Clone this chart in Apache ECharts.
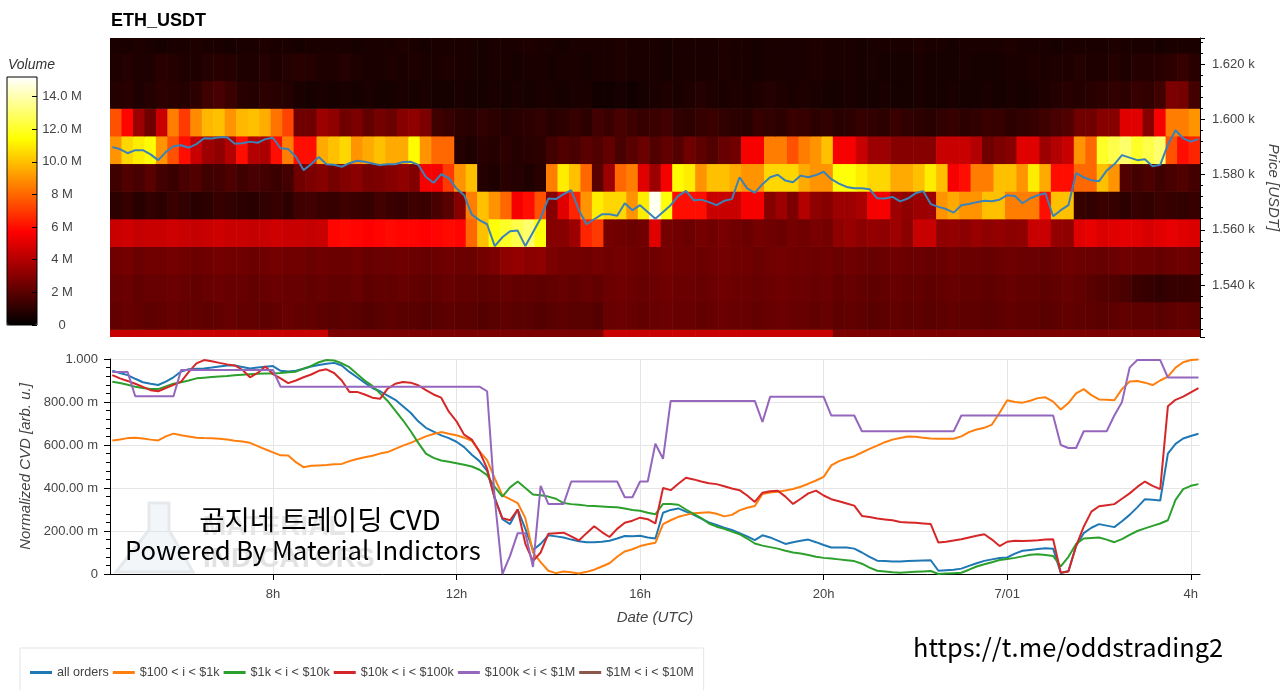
<!DOCTYPE html>
<html>
<head>
<meta charset="utf-8">
<title>ETH_USDT CVD</title>
<script src="https://cdn.jsdelivr.net/npm/echarts@6/dist/echarts.min.js"></script>
<style>
  html, body { margin: 0; padding: 0; background: #fff; }
  #chart { width: 1280px; height: 690px; }
</style>
</head>
<body>
<div id="chart"></div>
<script>
// x is hours since 06-30 00:00 UTC
const xMin = 4.45, xMax = 28.2;
const tickHours = [8, 12, 16, 20, 24, 28];

// volume heatmap: 15 min columns from 04:27, 10 USDT price bins (values in M)
const heatStart = 4.45;
const heatStep = 0.25;
const priceBins = [1519, 1529, 1539, 1549, 1559, 1569, 1579, 1589, 1599, 1609, 1619, 1629];

const vol1519 = [4.5,4.5,4.5,4.5,4.5,4.5,4.5,4.5,4.5,4.5,4.5,4.5,4.5,4.5,4.5,4.5,4.5,4.5,4.5,
  2.8,2.8,2.8,2.8,2.8,2.8,2.8,2.8,2.8,2.8,2.8,2.8,2.8,2.8,2.8,2.8,2.8,2.8,2.8,2.8,2.8,2.8,2.8,2.8,
  4.5,4.5,4.5,4.5,4.5,4.5,4.5,4.5,4.5,4.5,4.5,4.5,4.5,4.5,4.5,4.5,4.5,4.5,4.5,4.5,
  2.8,2.8,2.8,2.8,2.8,2.8,2.8,2.8,2.8,2.8,2.8,2.8,2.8,2.8,2.8,2.8,2.8,2.8,2.8,2.8,2.8,2.8,2.8,2.8,2.8,2.8,2.8,2.8,2.8,2.8,2.8,2.8];
const vol1529 = [2.2,2.3,2.2,2.1,2.2,2.3,2.2,2.2,2.1,2.2,2.3,2.2,2.2,2.1,2.2,2.3,2.2,2.2,2.1,
  2.0,2.1,2.0,1.9,2.0,2.1,2.0,2.0,1.9,2.0,2.1,2.0,2.0,1.9,2.0,2.1,2.0,2.0,1.9,2.0,2.1,2.0,2.0,1.9,
  2.3,2.4,2.3,2.2,2.3,2.4,2.3,2.3,2.2,2.3,2.4,2.3,2.3,2.2,2.3,2.4,2.3,2.3,2.2,2.3,
  2.1,2.2,2.1,2.0,2.1,2.2,2.1,2.1,2.0,2.1,2.2,2.1,2.1,2.0,2.1,2.2,2.1,2.1,2.0,2.1,2.2,2.1,2.1,2.0,2.1,2.2,2.1,2.1,2.0,2.1,2.2,2.1];
const vol1539 = [2.3,2.4,2.2,2.3,2.3,2.4,2.3,2.2,2.3,2.4,2.3,2.3,2.2,2.3,2.4,2.3,2.3,2.2,2.3,2.2,
  2.2,2.3,2.1,2.2,2.2,2.3,2.2,2.1,2.2,2.3,2.2,2.2,2.1,2.2,2.3,2.2,2.2,2.1,2.2,2.3,2.2,2.3,2.2,
  2.4,2.5,2.4,2.3,2.4,2.5,2.4,2.4,2.3,2.4,2.5,2.4,2.4,2.3,2.4,2.5,2.4,2.4,2.3,2.4,
  2.2,2.3,2.2,2.1,2.2,2.3,2.2,2.2,2.1,2.2,2.3,2.2,2.2,2.1,2.2,2.3,2.2,2.2,2.1,2.2,2.3,2.2,2.0,1.9,1.8,1.6,
  1.3,1.2,1.1,1.2,1.2,1.3];
const vol1549 = [2.5,2.6,2.4,2.5,2.5,2.6,2.5,2.4,2.5,2.6,2.5,2.5,2.4,2.5,2.6,2.5,2.5,2.4,2.5,
  2.4,2.4,2.5,2.3,2.4,2.4,2.5,2.4,2.3,2.4,2.5,2.4,2.4,2.6,2.8,
  3.2,3.3,3.1,3.2, 2.8,2.6,2.6,2.5,2.6,
  2.5,2.6,2.5,2.4,2.5,2.6,2.5,2.5,2.4,2.5,2.6,2.5,2.5,2.4,2.5,2.6,2.5,2.5,2.4,2.5,
  2.4,2.5,2.4,2.3,2.4,2.5,2.4,2.4,2.3,2.4,2.5,2.4,2.4,2.3,2.4,2.5,2.4,2.4,2.3,2.4,2.5,2.4,2.4,2.3,2.4,2.5,2.4,2.4,2.3,2.4,2.5,2.4];
const vol1559 = [4.5,4.6,4.4,4.5,4.5,4.6,4.5,4.4,4.5,4.6,4.5,4.5,4.4,4.5,4.6,4.5,4.5,4.4,4.5,
  5.8,5.9,5.8,5.7,5.8,5.9,5.8,5.8,5.7,5.8,5.9,5.8,
  8,10,11.5,12,12.5,13,11.5, 3,3,3.5,6.5,7,
  2.6,2.5,2.4,2.5,5,2.6,2.5,2.4,2.6,2.5,2.7,2.5,2.4,2.6,2.5,2.4,2.6,2.5,2.7,2.6,
  3.2,3.4,3.1,3.3,3.2,3.5,3.1,4.5,4.5,3.2,3.3,3.1,3.4,3.2,3.3,3.1,3.2,4.5,4.5,3.3,3.2,
  5,5.2,4.9,5,5.1,5,4.8,5,5.2,5,4.9];
const vol1569 = [1.0,1.2,0.9,1.1,1.0,1.3,1.1,0.9,1.0,1.2,1.1,1.0,0.9,1.1,1.2,1.0,1.4,1.5,1.3,1.2,
  1.4,1.3,1.2,1.5,1.3,1.2,1.4,1.3,1.6,2.0,3.0,
  8.5,10,9,8,5.5,6,7.5,3,5,6.5,9,11,10.5,10.5,9,11,15,11.5,6,6,
  6,4.5,4.5,4.5,5.5,5.5,3,3.5,2.8,4,3.2,3,3.5,3.5,3.8,5.5,5.5,3.5,3.2,3.5,
  3.5,9,9.5,9,9,10,10,8.5,8.5,8.5,6,10,10,
  1.2,1.1,1.3,1.2,1.0,1.2,1.1,1.3,1.2,1.1,1.2];
const vol1579 = [1.4,1.8,1.6,2.0,1.5,1.3,1.6,1.8,1.4,1.5,1.7,1.4,1.6,1.5,1.3,1.5, 2.5,
  2.8,3,2.6,2.9,3.1,2.7,2.8,3,3.2,2.9, 5.5,5.5,7,9,10, 0.8,0.7,0.9,0.8,0.7,0.9,
  8.5,11,10,8,2,3.5,8,8.5,5,3.5,5.5,11.3,11,9,10,10,9.5,9,9,10.5,
  10.5,10.5,9.5,9,9,11.5,11.5,11,10.5,10.5,9.5,9.5,10,11,10,5.5,6,8.5,8.5,10,
  10,9,11,9.5,6,6,8,8,10,9,
  1.8,1.5,1.7,1.4,1.6,1.8,1.5];
const vol1589 = [9,10.5,11,11.3,9,7.5,6,4.5,3.5,3.2,4,6,4,3.8,6,8.5,6,6,9.5,10,10.5,9,9.5,10,9.5,9.5,11.3,9,8,8,
  0.8,0.7,0.9,0.8,1.0,0.8,0.9,1.0, 1.5,1.8,1.6,2.0,
  1.8,2.2,1.6,2.0,2.4,1.8,2.2,1.9,2.5,2.1,1.8,2.3,
  2.5,5.5,5.5,8.5,8.5,7.5,8.5,9,10,5.5,5.5,4.5,3.5,3.5,3,3,3,3,4.5,4.5,
  4.5,4,2.5,2.8,3,5,5,3.5,4,4.5,9,8,12,12.5,13,12,12.5,13,7.5,6,6.5];
const vol1599 = [7.5,5.8,3.5,2.5,4.5,8.5,7,8.8,9.8,10,9,9.8,10,9.6,8.3,7.2,2.5,2.5,3.5,3.2,2.5,2.8,2.2,2.6,2.4,3,3.2,2.8,
  1.4,1.2,1.0,0.9,1.1,1.0,0.8,0.9,1.0,1.1,0.9,1.0,1.2,1.0,1.5,1.3,1.6,1.4,1.2,1.3,
  1.5,1.1,1.0,1.2,1.3,1.1,1.0,0.9,1.2,1.1,1.0,1.3,1.2,1.0,1.1,0.9,1.0,1.2,1.1,1.0,
  1.3,1.1,1.0,0.9,1.1,1.2,1.0,1.1,1.3,1.2,1.0,1.1,1.2,1.4,1.6,1.8,
  2.5,2.5,3,3,5,5,3,5.5,8.5,8.5,9];
const vol1609 = [0.8,0.9,0.7,0.8,1.0,0.9,0.8,1.0, 1.4,1.6,1.3,
  0.9,0.8,1.0,0.9,0.8,0.6,0.5,0.6,0.5,0.6,0.5,0.6,0.5,0.5,0.6,0.5,0.6,0.5,0.5,0.6,
  0.5,0.5,0.6,0.5,0.6,0.5,0.6,0.6,0.5,0.6,0.6,0.4,0.4,0.5,0.4,0.5,0.6,0.7,0.6,0.7,0.8,0.7,0.6,0.7,0.6,0.7,0.8,0.7,0.6,0.7,
  0.6,0.5,0.5,0.6,0.5,0.5,0.6,0.5,0.5,0.6,0.5,0.5,0.6,0.5,0.5,0.6,0.5,0.6,0.5,0.6,0.7,0.8,0.9,0.8,0.9,1.0,1.1,1.0,1.2,1.1,1.4,
  2.8,2.6,1.5];
const vol1619 = [0.7,0.8,0.7,0.7,0.9,0.8,0.7,0.7,0.8,0.9,0.8,0.7,0.7,0.8,0.7,0.8,0.9,0.8,0.7,0.7,
  0.8,0.7,0.6,0.6,0.7,0.6,0.7,0.6,0.6,0.7,0.6,0.6,0.5,0.6,0.6,0.5,0.6,0.6,0.5,0.6,
  0.6,0.5,0.6,0.6,0.7,0.6,0.6,0.6,0.5,0.6,0.6,0.6,0.6,0.7,0.6,0.6,0.5,0.6,0.6,0.6,
  0.6,0.7,0.6,0.6,0.6,0.5,0.6,0.5,0.5,0.5,0.6,0.5,0.5,0.5,0.6,0.5,0.5,0.5,0.6,0.6,
  0.7,0.6,0.7,0.7,0.8,0.7,0.7,0.8,0.7,0.8,0.8,0.9,1.0,1.2,0.9];
const vol1629 = [0.6,0.6,0.7,0.6,0.5,0.6,0.6,0.7,0.6,0.6,0.5,0.6,0.6,0.7,0.6,0.6,0.5,0.6,0.6,0.6,
  0.6,0.5,0.6,0.6,0.6,0.7,0.6,0.5,0.6,0.6,0.6,0.6,0.5,0.6,0.6,0.6,0.7,0.6,0.6,0.5,
  0.6,0.6,0.6,0.6,0.7,0.6,0.6,0.6,0.5,0.6,0.6,0.6,0.6,0.7,0.6,0.6,0.5,0.6,0.6,0.6,
  0.6,0.7,0.6,0.6,0.6,0.5,0.6,0.6,0.6,0.6,0.7,0.6,0.6,0.5,0.6,0.6,0.6,0.6,0.7,0.6,
  0.6,0.6,0.5,0.6,0.6,0.6,0.6,0.7,0.6,0.6,0.6,0.5,0.6,0.6,0.6];
const volRows = [vol1519, vol1529, vol1539, vol1549, vol1559, vol1569, vol1579, vol1589, vol1599, vol1609, vol1619, vol1629];

const hotColors = ['#000000', '#550000', '#aa0000', '#ff0000', '#ff5500', '#ffaa00', '#ffff00', '#ffff80', '#ffffff'];

// price and CVD: 10 min samples from 04:30
const lineStart = 4.5;
const lineStep = 1 / 6;

const price = [1589.9,1589.2,1587.7,1588.8,1588.8,1587.3,1585.2,1588.1,1590.2,1590.6,
  1589.7,1591.0,1593.1,1593.0,1593.5,1593.5,1591.1,1591.3,1591.9,1591.5,
  1592.8,1593.3,1589.5,1589.2,1586.4,1581.6,1583.7,1586.3,1583.7,1583.5,
  1582.8,1584.1,1585.0,1584.6,1584.0,1583.4,1583.7,1583.7,1584.5,1584.6,
  1583.5,1579.1,1577.0,1580.1,1578.7,1574.9,1572.5,1565.5,1563.5,1562.0,
  1554.1,1557.3,1559.5,1559.7,1554.1,1559.1,1564.2,1571.3,1571.1,1572.9,
  1574.3,1567.1,1562.0,1563.8,1565.6,1565.6,1565.1,1569.6,1567.1,1568.9,
  1566.4,1564.0,1566.4,1568.9,1572.3,1574.1,1570.7,1570.9,1570.0,1568.9,
  1570.5,1571.1,1579.0,1575.0,1573.4,1576.5,1579.0,1579.9,1577.8,1577.2,
  1579.6,1579.0,1579.8,1581.0,1578.3,1576.7,1575.5,1575.0,1575.0,1574.7,
  1571.4,1571.3,1571.9,1570.3,1571.3,1573.2,1574.0,1569.3,1568.3,1567.5,
  1566.2,1568.9,1569.3,1570.0,1570.5,1570.3,1570.9,1572.5,1572.2,1569.6,
  1571.4,1572.5,1573.2,1564.9,1567.1,1568.9,1580.5,1579.0,1577.9,1577.6,
  1581.4,1583.7,1587.0,1586.1,1585.2,1585.5,1583.0,1583.5,1590.8,1596.0,
  1593.1,1591.9,1592.8];

const cvdAll = [0.945,0.935,0.925,0.908,0.892,0.885,0.879,0.895,0.915,0.942,
  0.952,0.955,0.956,0.96,0.965,0.97,0.97,0.963,0.956,0.96,
  0.964,0.967,0.945,0.942,0.945,0.955,0.965,0.972,0.978,0.982,
  0.97,0.94,0.915,0.89,0.865,0.85,0.83,0.81,0.78,0.75,
  0.71,0.68,0.662,0.645,0.632,0.615,0.59,0.555,0.525,0.48,
  0.355,0.255,0.232,0.3,0.21,0.112,0.14,0.18,0.175,0.17,
  0.16,0.152,0.148,0.148,0.15,0.155,0.165,0.177,0.176,0.178,
  0.17,0.165,0.285,0.298,0.305,0.29,0.275,0.258,0.24,0.228,
  0.215,0.205,0.19,0.175,0.158,0.18,0.17,0.155,0.14,0.148,
  0.155,0.16,0.148,0.135,0.123,0.123,0.123,0.118,0.1,0.08,
  0.062,0.06,0.058,0.058,0.06,0.062,0.063,0.064,0.015,0.018,
  0.02,0.025,0.038,0.05,0.061,0.068,0.074,0.077,0.095,0.108,
  0.112,0.116,0.12,0.118,0.005,0.014,0.13,0.19,0.215,0.232,
  0.225,0.218,0.245,0.275,0.31,0.348,0.345,0.342,0.56,0.605,
  0.63,0.642,0.652];
const cvd100 = [0.621,0.626,0.632,0.634,0.63,0.625,0.621,0.64,0.653,0.645,
  0.64,0.634,0.632,0.631,0.629,0.626,0.62,0.616,0.61,0.595,
  0.58,0.566,0.552,0.551,0.52,0.497,0.503,0.505,0.507,0.51,
  0.512,0.525,0.535,0.543,0.55,0.56,0.567,0.582,0.597,0.61,
  0.625,0.64,0.651,0.66,0.652,0.645,0.634,0.62,0.57,0.53,
  0.445,0.366,0.348,0.33,0.26,0.1,0.055,0.015,0.004,0.012,
  0.008,0.002,0.01,0.02,0.035,0.05,0.08,0.105,0.115,0.13,
  0.138,0.145,0.232,0.25,0.266,0.275,0.283,0.285,0.287,0.28,
  0.268,0.275,0.296,0.308,0.316,0.372,0.379,0.383,0.388,0.395,
  0.406,0.42,0.435,0.452,0.505,0.525,0.537,0.548,0.565,0.582,
  0.597,0.613,0.625,0.633,0.64,0.638,0.634,0.63,0.629,0.629,
  0.629,0.64,0.66,0.672,0.68,0.695,0.75,0.808,0.8,0.797,
  0.806,0.818,0.822,0.802,0.765,0.795,0.84,0.86,0.832,0.812,
  0.81,0.808,0.86,0.895,0.898,0.89,0.879,0.9,0.918,0.96,
  0.985,0.995,0.998];
const cvd1k = [0.894,0.888,0.88,0.871,0.865,0.86,0.86,0.872,0.885,0.892,
  0.9,0.91,0.913,0.916,0.919,0.921,0.924,0.927,0.929,0.931,
  0.932,0.933,0.935,0.938,0.941,0.955,0.968,0.985,0.995,0.993,
  0.98,0.962,0.93,0.9,0.875,0.84,0.805,0.76,0.715,0.665,
  0.61,0.56,0.54,0.528,0.522,0.515,0.508,0.5,0.485,0.46,
  0.405,0.36,0.403,0.43,0.4,0.37,0.366,0.36,0.35,0.33,
  0.325,0.322,0.318,0.316,0.314,0.312,0.31,0.305,0.298,0.294,
  0.285,0.278,0.326,0.326,0.322,0.3,0.28,0.26,0.235,0.22,
  0.21,0.197,0.185,0.165,0.142,0.132,0.125,0.118,0.108,0.1,
  0.095,0.088,0.08,0.075,0.072,0.068,0.064,0.06,0.048,0.03,
  0.015,0.012,0.008,0.006,0.008,0.01,0.012,0.014,0.0,0.002,
  0.004,0.006,0.02,0.035,0.045,0.055,0.065,0.07,0.075,0.082,
  0.09,0.092,0.088,0.084,0.035,0.08,0.14,0.165,0.168,0.17,
  0.16,0.148,0.162,0.182,0.2,0.212,0.224,0.235,0.25,0.345,
  0.395,0.41,0.418];
const cvd10k = [0.925,0.91,0.898,0.885,0.87,0.855,0.85,0.865,0.88,0.895,
  0.94,0.98,0.995,0.99,0.982,0.975,0.97,0.95,0.915,0.935,
  0.965,0.93,0.91,0.888,0.9,0.915,0.928,0.945,0.952,0.935,
  0.9,0.847,0.847,0.835,0.82,0.815,0.862,0.885,0.893,0.89,
  0.878,0.855,0.835,0.82,0.755,0.71,0.648,0.625,0.57,0.49,
  0.35,0.26,0.25,0.3,0.14,0.06,0.1,0.187,0.19,0.192,
  0.175,0.156,0.19,0.222,0.195,0.172,0.21,0.238,0.248,0.262,
  0.255,0.235,0.4,0.39,0.42,0.448,0.44,0.43,0.422,0.418,
  0.408,0.398,0.39,0.365,0.335,0.378,0.385,0.387,0.36,0.326,
  0.35,0.375,0.388,0.365,0.348,0.338,0.328,0.318,0.27,0.265,
  0.258,0.254,0.25,0.242,0.24,0.238,0.235,0.232,0.146,0.15,
  0.156,0.162,0.17,0.178,0.185,0.16,0.13,0.15,0.155,0.153,
  0.155,0.157,0.16,0.162,0.006,0.012,0.13,0.22,0.29,0.315,
  0.32,0.325,0.35,0.375,0.405,0.43,0.41,0.395,0.78,0.81,
  0.825,0.845,0.865];
const cvd100k = [0.94,0.94,0.94,0.827,0.827,0.827,0.827,0.827,0.827,0.949,
  0.949,0.949,0.949,0.949,0.949,0.949,0.949,0.949,0.949,0.949,
  0.949,0.949,0.871,0.871,0.871,0.871,0.871,0.871,0.871,0.871,
  0.871,0.871,0.871,0.871,0.871,0.871,0.871,0.871,0.871,0.871,
  0.871,0.871,0.871,0.871,0.871,0.871,0.871,0.871,0.871,0.85,
  0.35,0.0,0.084,0.19,0.19,0.033,0.41,0.326,0.326,0.326,
  0.43,0.43,0.43,0.43,0.43,0.43,0.43,0.357,0.357,0.43,
  0.43,0.606,0.536,0.805,0.805,0.805,0.805,0.805,0.805,0.805,
  0.805,0.805,0.805,0.805,0.805,0.707,0.824,0.824,0.824,0.824,
  0.824,0.824,0.824,0.824,0.737,0.737,0.737,0.737,0.664,0.664,
  0.664,0.664,0.664,0.664,0.664,0.664,0.664,0.664,0.664,0.664,
  0.664,0.737,0.737,0.737,0.737,0.737,0.737,0.737,0.737,0.737,
  0.737,0.737,0.737,0.737,0.6,0.586,0.586,0.664,0.664,0.664,
  0.664,0.737,0.8,0.96,0.995,0.995,0.995,0.995,0.914,0.914,
  0.914,0.914,0.914];
const cvd1M = [];

const seriesNames = ['all orders', '$100 < i < $1k', '$1k < i < $10k', '$10k < i < $100k', '$100k < i < $1M', '$1M < i < $10M'];
const seriesColors = ['#1f77b4', '#ff7f0e', '#2ca02c', '#d62728', '#9467bd', '#8c564b'];
const cvdSeries = [cvdAll, cvd100, cvd1k, cvd10k, cvd100k, cvd1M];

const chart = echarts.init(document.getElementById('chart'));

const heatData = [];
volRows.forEach((row, r) => {
  row.forEach((v, c) => heatData.push([heatStart + c * heatStep, priceBins[r], v]));
});

function toLine(values) {
  return values.map((v, i) => [lineStart + i * lineStep, v]);
}

function hourLabel(v) {
  if (v === 24) return '7/01';
  return (v > 24 ? v - 24 : v) + 'h';
}

const FONT = '"Liberation Sans", Arial, Helvetica, sans-serif';
const KFONT = '"Noto Sans CJK KR", "Noto Sans", sans-serif';
const axisName = { fontSize: 15, fontStyle: 'italic', color: '#444', fontFamily: FONT };
const tickLabel = { fontSize: 13, color: '#444', fontFamily: FONT };

const option = {
  animation: false,
  backgroundColor: '#fff',
  textStyle: { fontFamily: FONT },
  title: [
    { text: 'ETH_USDT', left: 111, top: 12, padding: 0,
      textStyle: { fontSize: 18, fontWeight: 'bold', color: '#000', fontFamily: FONT } },
    { text: 'Volume', left: 8, top: 58, padding: 0,
      textStyle: { fontSize: 14, fontStyle: 'italic', fontWeight: 'normal', color: '#333', fontFamily: FONT } }
  ],
  grid: [
    { left: 110, top: 38, width: 1090, height: 299, outerBoundsMode: 'none' },
    { left: 110, top: 359, width: 1090, height: 215, outerBoundsMode: 'none' },
    { left: 7, top: 77, width: 30, height: 248, show: true, borderColor: '#000', borderWidth: 1,
      backgroundColor: 'transparent', z: 10, outerBoundsMode: 'none' }
  ],
  visualMap: {
    type: 'continuous',
    min: 0,
    max: 15.2,
    seriesIndex: 0,
    dimension: 2,
    inRange: { color: hotColors },
    left: 7,
    top: 77,
    itemWidth: 30,
    itemHeight: 248,
    padding: 0,
    calculable: false,
    hoverLink: false,
    text: null
  },
  xAxis: [
    { gridIndex: 0, type: 'value', min: xMin, max: xMax, show: false },
    { gridIndex: 1, type: 'value', min: xMin, max: xMax,
      axisLine: { show: true, onZero: false, lineStyle: { color: '#000', width: 1 } },
      axisTick: { show: true, length: 6, lineStyle: { color: '#000' }, customValues: tickHours },
      axisLabel: { customValues: tickHours, formatter: hourLabel, margin: 14, ...tickLabel },
      splitLine: { show: true, lineStyle: { color: '#e5e5e5' } },
      name: 'Date (UTC)', nameLocation: 'middle', nameGap: 36, nameTextStyle: axisName },
    { gridIndex: 2, type: 'value', show: false, min: 0, max: 1 }
  ],
  yAxis: [
    { gridIndex: 0, type: 'value', position: 'right', min: 1521.2, max: 1629.4,
      axisLine: { show: true, onZero: false, lineStyle: { color: '#000' } },
      axisTick: { show: true, length: 5, lineStyle: { color: '#000' } },
      minorTick: { show: true, splitNumber: 5, length: 3, lineStyle: { color: '#000' } },
      axisLabel: { showMinLabel: false, showMaxLabel: false, margin: 12,
        formatter: v => (v / 1000).toFixed(3) + ' k', ...tickLabel },
      splitLine: { show: false },
      name: 'Price [USDT]', nameLocation: 'middle', nameGap: 55, nameRotate: -90, nameTextStyle: axisName },
    { gridIndex: 1, type: 'value', min: 0, max: 1, interval: 0.2,
      axisLine: { show: true, onZero: false, lineStyle: { color: '#000' } },
      axisTick: { show: true, length: 6, lineStyle: { color: '#000' } },
      minorTick: { show: true, splitNumber: 5, length: 4, lineStyle: { color: '#000' } },
      axisLabel: { margin: 12, ...tickLabel,
        formatter: v => v === 1 ? '1.000' : v === 0 ? '0' : (v * 1000).toFixed(2) + ' m' },
      splitLine: { show: true, lineStyle: { color: '#e5e5e5' } },
      name: 'Normalized CVD [arb. u.]', nameLocation: 'middle', nameGap: 71, nameTextStyle: axisName },
    { gridIndex: 2, type: 'value', position: 'right', min: 0, max: 15.2, interval: 2, z: 10,
      axisLine: { show: false, onZero: false },
      axisTick: { show: true, inside: true, length: 5, lineStyle: { color: '#000' } },
      axisLabel: { showMaxLabel: false, align: 'center', margin: 25, ...tickLabel,
        formatter: v => v === 0 ? '0' : (v >= 10 ? v.toFixed(1) : v) + ' M' },
      splitLine: { show: false } }
  ],
  legend: {
    data: seriesNames,
    left: 20,
    top: 648,
    orient: 'horizontal',
    icon: 'rect',
    itemWidth: 22,
    itemHeight: 3,
    itemGap: 4,
    padding: [18, 10, 14, 10],
    borderColor: '#e5e5e5',
    borderWidth: 1,
    backgroundColor: '#fff',
    textStyle: { fontSize: 12.6, color: '#444', fontFamily: FONT }
  },
  series: [
    {
      type: 'custom',
      name: 'volume',
      xAxisIndex: 0,
      yAxisIndex: 0,
      clip: true,
      encode: { x: 0, y: 1 },
      data: heatData,
      renderItem: function (params, api) {
        const x = api.value(0), y = api.value(1);
        const p0 = api.coord([x, y + 5]);
        const p1 = api.coord([x + heatStep, y - 5]);
        return {
          type: 'rect',
          shape: { x: p0[0], y: p0[1], width: p1[0] - p0[0] + 0.6, height: p1[1] - p0[1] + 0.6 },
          style: { fill: api.visual('color') }
        };
      }
    },
    {
      type: 'line',
      name: 'price',
      xAxisIndex: 0,
      yAxisIndex: 0,
      data: toLine(price),
      showSymbol: false,
      lineStyle: { color: '#3b82b8', width: 2 },
      z: 3
    }
  ].concat(cvdSeries.map((vals, k) => ({
    type: 'line',
    name: seriesNames[k],
    xAxisIndex: 1,
    yAxisIndex: 1,
    data: toLine(vals),
    showSymbol: false,
    color: seriesColors[k],
    lineStyle: { color: seriesColors[k], width: 2 },
    z: 3
  }))),
  graphic: [
    { type: 'polygon', z: 1, silent: true,
      shape: { points: [[149, 503], [169, 503], [169, 530], [193, 572], [116, 572], [149, 530]] },
      style: { fill: 'rgba(220,230,236,0.35)', stroke: '#e6e9ec', lineWidth: 3 } },
    { type: 'text', x: 203, y: 527, z: 1, silent: true,
      style: { text: 'MATERIAL', font: 'bold 28px ' + FONT, fill: '#e6e6e6', textVerticalAlign: 'middle', verticalAlign: 'middle' } },
    { type: 'text', x: 203, y: 559, z: 1, silent: true,
      style: { text: 'INDICATORS', font: 'bold 28px ' + FONT, fill: '#e2e2e2', textVerticalAlign: 'middle', verticalAlign: 'middle' } },
    { type: 'text', x: 320, y: 520, z: 100, silent: true,
      style: { text: '곰지네 트레이딩 CVD', font: '27.5px ' + KFONT, fill: '#000',
        textAlign: 'center', align: 'center', textVerticalAlign: 'middle', verticalAlign: 'middle' } },
    { type: 'text', x: 125, y: 550, z: 100, silent: true,
      style: { text: 'Powered By Material Indictors', font: '25.7px ' + KFONT, fill: '#000',
        textVerticalAlign: 'middle', verticalAlign: 'middle' } },
    { type: 'text', x: 913, y: 647, z: 100, silent: true,
      style: { text: 'https://t.me/oddstrading2', font: '25.4px ' + KFONT, fill: '#000',
        textVerticalAlign: 'middle', verticalAlign: 'middle' } }
  ]
};

chart.setOption(option);
</script>
</body>
</html>
